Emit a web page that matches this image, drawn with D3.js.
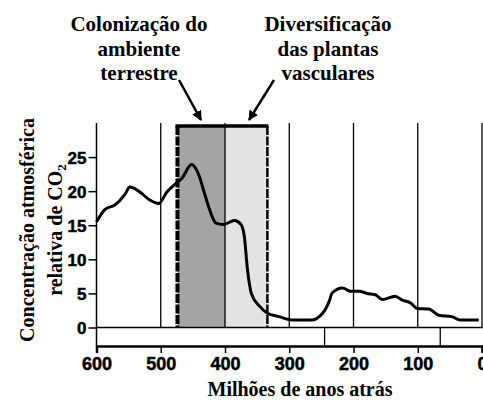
<!DOCTYPE html>
<html>
<head>
<meta charset="utf-8">
<script src="https://cdn.jsdelivr.net/npm/d3@7"></script>
<style>
  body { margin: 0; background: #fff; }
  svg text { font-weight: bold; fill: #000; }
</style>
</head>
<body>
<div id="chart"></div>
<script>
// CO2 relative concentration over the last 600 million years

var ages = [600,587,571,556,548,533,517,503,491,478,467,452,440,432,424,414,403,385,375,370,365,359,346,334,316,295,266,248,238,233,217,204,191,179,166,155,135,124,111,101,83,67,47,34,5];
var co2 = [15.5,17.3,18.0,19.5,20.6,19.9,18.7,18.2,19.8,21.0,21.9,23.9,22.2,19.7,17.3,15.3,15.1,15.7,15.1,13.4,8.5,5.0,3.1,2.1,1.6,1.1,1.1,2.1,3.8,5.1,5.8,5.3,5.3,5.0,4.8,4.1,4.6,4.0,3.6,2.8,2.7,1.8,1.6,1.1,1.1];

var xTicks = [600,500,400,300,200,100,0];
var yTicks = [0,5,10,15,20,25];
var gridAges = [500,400,300,200,100,0];
var eraBounds = [245,65];

// shaded periods: colonization of land, diversification of vascular plants
var periodStart = [474,400];
var periodEnd = [400,334];
var periodFill = ['#a4a4a4','#e3e3e3'];

var labelColon = ['Colonização do','ambiente','terrestre'];
var labelDiv = ['Diversificação','das plantas','vasculares'];

var serif = "'Liberation Serif', Tinos, 'Times New Roman', 'DejaVu Serif', serif";
var sans = "'Liberation Sans', Arimo, Arial, sans-serif";

var width = 483, height = 403;
var svg = d3.select('#chart').append('svg')
  .attr('width', width)
  .attr('height', height);

var x = d3.scaleLinear().domain([600,0]).range([96.5,482]);
var y = d3.scaleLinear().domain([0,30]).range([327.5,123]);
var bottomY = 346;

// arrow marker
svg.append('defs').append('marker')
  .attr('id','arrow')
  .attr('viewBox','0 0 10 10')
  .attr('refX',9).attr('refY',5)
  .attr('markerWidth',4).attr('markerHeight',4)
  .attr('orient','auto')
  .append('path')
  .attr('d','M0,0 L10,5 L0,10 z')
  .attr('fill','#000');

// shaded bands
svg.selectAll('rect.period')
  .data(periodStart)
  .enter()
  .append('rect')
  .attr('class','period')
  .attr('x', (d)=> x(d))
  .attr('y', 126)
  .attr('width', (d,i)=> x(periodEnd[i]) - x(d))
  .attr('height', y(0) - 126)
  .attr('fill', (d,i)=> periodFill[i]);

// vertical grid lines
svg.selectAll('line.grid')
  .data(gridAges)
  .enter()
  .append('line')
  .attr('x1', (d)=> x(d)).attr('x2', (d)=> x(d))
  .attr('y1', y(30)).attr('y2', y(0))
  .attr('stroke','#000')
  .attr('stroke-width',1.3);

// era boundaries in the strip under zero
svg.selectAll('line.era')
  .data(eraBounds)
  .enter()
  .append('line')
  .attr('x1', (d)=> x(d)).attr('x2', (d)=> x(d))
  .attr('y1', y(0)).attr('y2', bottomY)
  .attr('stroke','#000')
  .attr('stroke-width',1.3);

// band borders
svg.append('line')
  .attr('x1', x(474)).attr('x2', x(474))
  .attr('y1', 126).attr('y2', y(0))
  .attr('stroke','#000').attr('stroke-width',4)
  .attr('stroke-dasharray','9,1.5');
svg.append('line')
  .attr('x1', x(334)).attr('x2', x(334))
  .attr('y1', 126).attr('y2', y(0))
  .attr('stroke','#000').attr('stroke-width',2.5)
  .attr('stroke-dasharray','9,1.5');
svg.append('line')
  .attr('x1', x(474) - 2).attr('x2', x(334) + 1)
  .attr('y1', 126).attr('y2', 126)
  .attr('stroke','#000').attr('stroke-width',3.5);

// CO2 curve
var line = d3.line()
  .x((d,i)=> x(ages[i]))
  .y((d)=> y(d))
  .curve(d3.curveMonotoneX);

svg.append('path')
  .datum(co2)
  .attr('d', line)
  .attr('fill','none')
  .attr('stroke','#000')
  .attr('stroke-width',3)
  .attr('stroke-linejoin','round');

// zero line
svg.append('line')
  .attr('x1', x(600)).attr('x2', width)
  .attr('y1', y(0)).attr('y2', y(0))
  .attr('stroke','#000').attr('stroke-width',1.3);

// axes
var yAxis = svg.append('g')
  .attr('transform','translate(' + x(600) + ',0)')
  .call(d3.axisLeft(y).tickValues(yTicks).tickSize(8).tickPadding(2));
yAxis.select('.domain').remove();
yAxis.selectAll('.tick line').attr('stroke-width',1.5);
yAxis.selectAll('.tick text')
  .attr('font-family', sans).attr('font-size',17).attr('dy','0.36em')
  .attr('stroke','#000').attr('stroke-width',0.5);

svg.append('line')
  .attr('x1', x(600)).attr('x2', x(600))
  .attr('y1', y(30)).attr('y2', bottomY)
  .attr('stroke','#000').attr('stroke-width',1.5);

var xAxis = svg.append('g')
  .attr('transform','translate(0,' + bottomY + ')')
  .call(d3.axisBottom(x).tickValues(xTicks).tickSize(7).tickPadding(4));
xAxis.select('.domain').attr('stroke-width',2.5);
xAxis.selectAll('.tick line').attr('stroke-width',1.5);
xAxis.selectAll('.tick text')
  .attr('font-family', sans).attr('font-size',18)
  .attr('stroke','#000').attr('stroke-width',0.5);

// annotations
function block(lines, cx, y0) {
  svg.append('text')
    .attr('text-anchor','middle')
    .attr('font-family', serif)
    .attr('font-size',21)
    .selectAll('tspan')
    .data(lines)
    .enter()
    .append('tspan')
    .attr('x', cx)
    .attr('y', (d,i)=> y0 + i*24.5)
    .text((d)=> d);
}
block(labelColon, 139, 31);
block(labelDiv, 328, 31);

svg.append('line')
  .attr('x1',179).attr('y1',80)
  .attr('x2',201).attr('y2',120)
  .attr('stroke','#000').attr('stroke-width',2.5)
  .attr('marker-end','url(#arrow)');
svg.append('line')
  .attr('x1',274).attr('y1',80)
  .attr('x2',249).attr('y2',120)
  .attr('stroke','#000').attr('stroke-width',2.5)
  .attr('marker-end','url(#arrow)');

// axis titles
svg.append('text')
  .attr('x', 300).attr('y', 396)
  .attr('text-anchor','middle')
  .attr('font-family', serif)
  .attr('font-size',20)
  .text('Milhões de anos atrás');

var yt = svg.append('text')
  .attr('transform','translate(34,230) rotate(-90)')
  .attr('text-anchor','middle')
  .attr('font-family', serif)
  .attr('font-size',20);
yt.append('tspan').attr('x',0).attr('y',0).text('Concentração atmosférica');
yt.append('tspan').attr('x',0).attr('y',28).text('relativa de CO');
yt.append('tspan').attr('font-size',13).attr('dy',4).text('2');
</script>
</body>
</html>
